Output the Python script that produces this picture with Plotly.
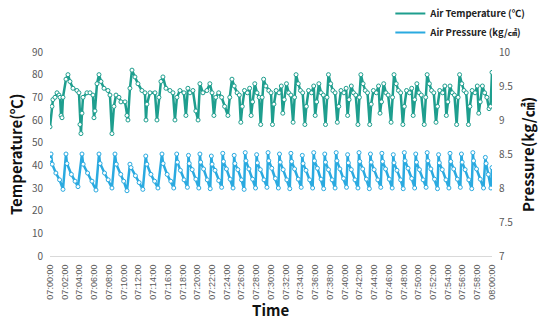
import pandas as pd
import plotly.graph_objects as go

# ---- data (minutes after 07:00:00) ----
temp_min = [0.0, 0.27, 0.4, 0.68, 0.95, 1.22, 1.36, 1.5, 1.63, 1.76, 2.17, 2.44, 2.71, 3.12, 3.66, 3.93,
            4.07, 4.2, 4.34, 4.48, 5.02, 5.43, 5.83, 5.97, 6.1, 6.38, 6.65, 6.92, 7.33, 7.87, 8.14,
            8.41, 8.68, 8.96, 9.36, 9.63, 10.18, 10.45, 10.58, 10.85, 11.13, 11.53, 11.94, 12.48, 12.89,
            13.03, 13.16, 13.57, 14.25, 14.52, 14.79, 15.06, 15.33, 15.74, 16.28, 16.69, 16.96,
            17.23, 17.64, 18.18, 18.45, 18.72, 19.0, 19.4, 19.8, 20.1, 20.35, 20.76, 21.3, 21.7, 22.0,
            22.25, 22.5, 22.9, 23.3, 23.7, 24.15, 24.4,
            24.7, 25.0, 25.4, 25.7, 25.9, 26.1, 26.4, 26.8, 27.1, 27.3, 27.5, 27.8, 28.1, 28.4, 28.6, 28.8,
            29.0, 29.3, 29.7, 30.0, 30.2, 30.4, 30.7, 31.1, 31.4, 31.6, 31.8, 32.1, 32.4, 32.7, 33.0, 33.2,
            33.4, 33.7, 34.0, 34.3, 34.6, 34.8, 35.1, 35.5, 35.8, 36.0, 36.2, 36.5, 36.8, 37.1, 37.4, 37.6,
            37.8, 38.1, 38.4, 38.7, 39.0, 39.2, 39.5, 39.9, 40.2, 40.4, 40.6, 40.9, 41.2, 41.5, 41.8, 42.0,
            42.2, 42.5, 42.8, 43.1, 43.4, 43.6, 43.9, 44.3, 44.6, 44.8, 45.0, 45.3, 45.6, 45.9, 46.3, 46.5,
            46.7, 47.0, 47.3, 47.6, 47.9, 48.1, 48.4, 48.8, 49.1, 49.3, 49.5, 49.8, 50.1, 50.4, 50.8, 51.0,
            51.2, 51.5, 51.8, 52.1, 52.4, 52.6, 52.9, 53.3, 53.6, 53.8, 54.0, 54.3, 54.6, 54.9, 55.2, 55.4,
            55.6, 55.9, 56.2, 56.5, 56.8, 57.0, 57.3, 57.7, 58.0, 58.2, 58.4, 58.7, 59.0, 59.3, 59.6, 59.8, 60.0]
temp_val = [57, 66, 69, 70, 72, 71, 70, 62, 61, 70, 78, 80, 77, 74, 73, 72,
            58, 54, 63, 70, 72, 72, 71, 61, 64, 76, 80, 77, 74, 73, 71,
            54, 66, 71, 70, 68, 68, 62, 60, 74, 82, 79, 76, 73, 72,
            60, 67, 72, 72, 60, 70, 77, 79, 74, 73, 72, 60,
            70, 73, 72, 62, 74, 72, 73, 64, 60, 76, 72, 73, 76, 72,
            62, 70, 72, 70, 66, 62, 70,
            78, 75, 72, 71, 59, 66, 73, 72, 74, 62, 68, 76, 72, 70, 58, 70,
            78, 75, 73, 72, 58, 67, 73, 72, 75, 63, 69, 76, 72, 71, 59, 70,
            80, 76, 73, 72, 58, 66, 73, 72, 75, 62, 68, 76, 72, 71, 58, 70,
            80, 76, 73, 72, 59, 66, 73, 72, 74, 62, 69, 75, 72, 71, 58, 70,
            80, 76, 73, 72, 58, 67, 73, 72, 75, 63, 68, 76, 72, 71, 59, 70,
            80, 76, 73, 72, 58, 66, 73, 72, 74, 62, 69, 76, 72, 71, 58, 70,
            80, 76, 73, 72, 59, 66, 73, 72, 75, 62, 68, 75, 72, 71, 58, 70,
            80, 76, 73, 72, 58, 66, 73, 72, 75, 63, 68, 75, 72, 70, 65, 66, 81]

pres_min = [0.0, 0.14, 0.3, 0.8, 1.3, 1.76,
            2.17, 2.3, 2.9, 3.4, 3.8,
            4.34, 4.5, 5.1, 5.7, 6.24,
            6.65, 6.8, 7.4, 7.9, 8.41,
            8.82, 9.0, 9.6, 10.0, 10.45,
            10.85, 11.0, 11.6, 12.1, 12.6,
            13.0, 13.15, 13.7, 14.2, 14.65,
            15.2, 15.35, 15.9, 16.4, 16.8,
            17.2, 17.3, 17.7, 18.2, 18.65,
            18.8, 18.9, 19.3, 19.8, 20.2,
            20.35, 20.45, 20.85, 21.35, 21.75,
            21.9, 22.0, 22.4, 22.9, 23.3,
            23.45, 23.55, 23.95, 24.45, 24.85,
            25.0, 25.1, 25.5, 26.0, 26.35,
            26.5, 26.6, 27.0, 27.5, 27.9,
            28.05, 28.15, 28.55, 29.05, 29.45,
            29.6, 29.7, 30.1, 30.6, 31.0,
            31.15, 31.25, 31.65, 32.15, 32.55,
            32.7, 32.8, 33.2, 33.7, 34.1,
            34.25, 34.35, 34.75, 35.25, 35.65,
            35.8, 35.9, 36.3, 36.8, 37.15,
            37.3, 37.4, 37.8, 38.3, 38.7,
            38.85, 38.95, 39.35, 39.85, 40.25,
            40.4, 40.5, 40.9, 41.4, 41.8,
            41.95, 42.05, 42.45, 42.95, 43.35,
            43.5, 43.6, 44.0, 44.5, 44.9,
            45.05, 45.15, 45.55, 46.05, 46.45,
            46.6, 46.7, 47.1, 47.6, 47.95,
            48.1, 48.2, 48.6, 49.1, 49.5,
            49.65, 49.75, 50.15, 50.65, 51.05,
            51.2, 51.3, 51.7, 52.2, 52.6,
            52.75, 52.85, 53.25, 53.75, 54.15,
            54.3, 54.4, 54.8, 55.3, 55.7,
            55.85, 55.95, 56.35, 56.85, 57.25,
            57.4, 57.5, 57.9, 58.4, 58.85,
            59.1, 59.2, 59.5, 59.85, 60.0]
pres_val = [8.42, 8.50, 8.35, 8.22, 8.12, 7.98,
            8.50, 8.36, 8.20, 8.10, 8.02,
            8.50, 8.35, 8.22, 8.10, 7.97,
            8.50, 8.36, 8.22, 8.12, 8.00,
            8.50, 8.35, 8.20, 8.10, 7.96,
            8.35, 8.30, 8.18, 8.08, 7.98,
            8.47, 8.35, 8.20, 8.10, 8.00,
            8.50, 8.36, 8.20, 8.10, 8.00,
            8.50, 8.38, 8.26, 8.12, 8.01,
            8.48, 8.36, 8.27, 8.13, 8.00,
            8.50, 8.38, 8.28, 8.12, 7.99,
            8.47, 8.35, 8.26, 8.11, 8.01,
            8.51, 8.39, 8.28, 8.13, 8.00,
            8.48, 8.36, 8.27, 8.12, 7.98,
            8.52, 8.40, 8.28, 8.13, 8.00,
            8.49, 8.37, 8.27, 8.12, 8.01,
            8.52, 8.40, 8.29, 8.14, 8.00,
            8.50, 8.38, 8.27, 8.12, 7.99,
            8.51, 8.39, 8.28, 8.13, 8.01,
            8.48, 8.36, 8.26, 8.12, 8.00,
            8.52, 8.40, 8.29, 8.13, 7.99,
            8.50, 8.38, 8.27, 8.12, 8.00,
            8.52, 8.40, 8.28, 8.14, 8.01,
            8.49, 8.37, 8.27, 8.12, 8.00,
            8.52, 8.39, 8.28, 8.13, 7.99,
            8.50, 8.38, 8.27, 8.12, 8.01,
            8.51, 8.39, 8.28, 8.13, 8.00,
            8.49, 8.37, 8.26, 8.12, 7.99,
            8.52, 8.40, 8.29, 8.14, 8.00,
            8.50, 8.38, 8.27, 8.12, 8.01,
            8.52, 8.40, 8.28, 8.13, 7.99,
            8.49, 8.37, 8.27, 8.12, 8.00,
            8.51, 8.39, 8.28, 8.13, 8.01,
            8.50, 8.38, 8.27, 8.12, 7.99,
            8.52, 8.40, 8.28, 8.13, 8.00,
            8.45, 8.36, 8.20, 8.00, 8.30]

tick_labels = ["07:%02d:00" % m for m in range(0, 60, 2)] + ["08:00:00"]
series_names = ["Air Temperature (℃)", "Air Pressure (kg/㎠)"]

base = pd.Timestamp("2024-01-01 07:00:00")
tx = [base + pd.Timedelta(minutes=m) for m in temp_min]
px_ = [base + pd.Timedelta(minutes=m) for m in pres_min]
tick_vals = [base + pd.Timedelta(minutes=2 * i) for i in range(len(tick_labels))]

GREEN = "#1E9E8E"
BLUE = "#2AAAE0"
FONT = "Noto Sans CJK KR"

fig = go.Figure()
fig.add_trace(go.Scatter(
    x=tx, y=temp_val, mode="lines+markers", showlegend=False,
    line=dict(color=GREEN, width=2.5),
    marker=dict(size=4, color="white", line=dict(color=GREEN, width=1)),
))
fig.add_trace(go.Scatter(
    x=px_, y=pres_val, mode="lines+markers", yaxis="y2", showlegend=False,
    line=dict(color=BLUE, width=2.5),
    marker=dict(size=4, color="white", line=dict(color=BLUE, width=1)),
))
# legend entries (line only, as in the reference legend)
for nm, col, ax in [(series_names[0], GREEN, "y"), (series_names[1], BLUE, "y2")]:
    fig.add_trace(go.Scatter(x=[None], y=[None], mode="lines", yaxis=ax,
                             name="<b>%s</b>" % nm, line=dict(color=col, width=2)))

fig.update_layout(
    width=540, height=323,
    margin=dict(l=50, r=48, t=52, b=67, autoexpand=False),
    paper_bgcolor="white", plot_bgcolor="white",
    font=dict(family=FONT, color="#595959", size=10),
    showlegend=True,
    legend=dict(x=0.77, xanchor="left", y=1.26, yanchor="top",
                font=dict(size=9.5, color="#222222", family=FONT),
                bgcolor="rgba(0,0,0,0)", tracegroupgap=0, itemwidth=30),
    xaxis=dict(
        range=[base, base + pd.Timedelta(minutes=60)],
        tickvals=tick_vals, ticktext=tick_labels, tickangle=-90,
        tickfont=dict(size=9, color="#595959", family="Liberation Sans"),
        showgrid=False, showline=True, linecolor="#D9D9D9", linewidth=1,
        ticks="", zeroline=False, ticklabelstandoff=4, automargin=False,
    ),
    yaxis=dict(
        range=[0, 90], dtick=10, showgrid=False, zeroline=False, showline=False,
        tickfont=dict(size=10, color="#595959"), ticklabelstandoff=6, automargin=False,
    ),
    yaxis2=dict(
        range=[7, 10], dtick=0.5, overlaying="y", side="right", showgrid=False,
        zeroline=False, showline=False, automargin=False,
        tickfont=dict(size=10, color="#595959"), ticklabelstandoff=6,
    ),
    annotations=[
        dict(text="<b>Temperature(℃)</b>", x=-0.079, y=0.5, xref="paper", yref="paper",
             textangle=-90, showarrow=False, xanchor="center", yanchor="middle",
             font=dict(size=15, color="#111111", family=FONT)),
        dict(text="<b>Pressure(kg/㎠)</b>", x=1.079, y=0.5, xref="paper", yref="paper",
             textangle=-90, showarrow=False, xanchor="center", yanchor="middle",
             font=dict(size=15, color="#111111", family=FONT)),
        dict(text="<b>Time</b>", x=0.498, y=-0.262, xref="paper", yref="paper",
             showarrow=False, xanchor="center", yanchor="middle",
             font=dict(size=15, color="#111111", family=FONT)),
    ],
)

fig.write_html("out.html")
